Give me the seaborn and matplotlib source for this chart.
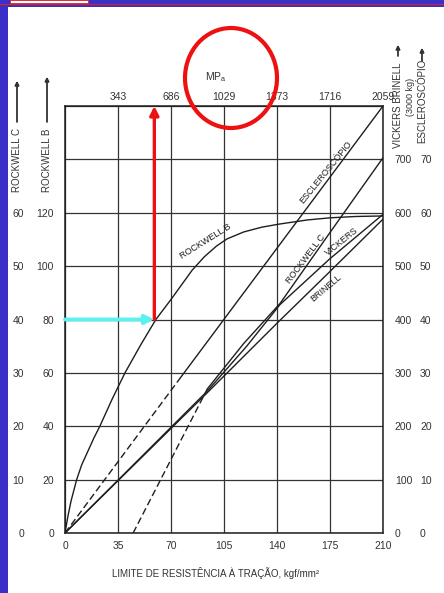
import numpy as np
import matplotlib
matplotlib.use('Agg')
import matplotlib.pyplot as plt
from matplotlib.patches import Ellipse, Rectangle
from matplotlib.lines import Line2D
import seaborn as sns

# limite de resistencia a tracao (kgf/mm2) x dureza
rb_x = [0, 2, 4, 7.7, 11, 15, 19, 23, 31, 39.6, 50, 60, 70, 77, 84, 92, 100, 107, 118,
        130, 142, 160, 175, 192, 210]
rb_y = [0, 6.5, 12, 20, 25.5, 30.5, 35.5, 40, 50, 60, 70.5, 80, 87.5, 93, 98.5, 103.5,
        107.5, 110.2, 112.8, 114.6, 115.8, 117.3, 118.1, 118.6, 118.8]

esc_dash_x = [0, 76]
esc_dash_y = [0, 29]          # escleroscopio, trecho tracejado
esc_x = [76, 210]
esc_y = [29, 80]

brinell_x = [0, 35, 94, 140, 175, 210]
brinell_y = [0, 98, 263, 393, 490, 588]

vickers_x = [0, 35, 94, 120, 142, 175, 210]
vickers_y = [0, 99, 266, 350, 428, 514, 597]

rc_dash_x = [45, 94]
rc_dash_y = [0, 27]           # rockwell C, trecho tracejado
rc_x = [94, 118, 142, 175, 210]
rc_y = [27, 35.5, 43, 56.3, 70.3]

kgf_ticks = [0, 35, 70, 105, 140, 175, 210]
mpa_ticks = [343, 686, 1029, 1373, 1716, 2059]
rb_ticks = [0, 20, 40, 60, 80, 100, 120, 140, 160]
rb_labels = ["0", "20", "40", "60", "80", "100", "120", "", ""]
rc_ticks = [0, 10, 20, 30, 40, 50, 60]
vk_ticks = [0, 100, 200, 300, 400, 500, 600, 700]
esc_ticks = [0, 10, 20, 30, 40, 50, 60, 70]

arrow_x = 59      # leitura: 80 HRB -> limite de resistencia
arrow_rb = 80

sns.set_theme(style="white")
plt.rcParams['font.family'] = ['Liberation Sans', 'DejaVu Sans']
plt.rcParams['mathtext.fontset'] = 'custom'
plt.rcParams['mathtext.rm'] = 'Liberation Sans'
plt.rcParams['mathtext.default'] = 'regular'

W, H = 444, 593
fig = plt.figure(figsize=(W / 100, H / 100), dpi=100)
fig.patch.set_facecolor("white")


def fp(x, y):
    # pixel (de cima para baixo) -> fracao da figura
    return x / W, 1 - y / H


ax = fig.add_axes([65 / W, 60 / H, 318 / W, 427 / H])
ax.set_facecolor("white")
ink = "#1e1e1e"
grey = "#333333"

sns.lineplot(x=rb_x, y=rb_y, ax=ax, color=ink, lw=1.0, sort=False)
sns.lineplot(x=esc_dash_x, y=np.array(esc_dash_y) * 2, ax=ax, color=ink, lw=1.0,
             linestyle=(0, (5, 2.5)))
sns.lineplot(x=esc_x, y=np.array(esc_y) * 2, ax=ax, color=ink, lw=1.0)
sns.lineplot(x=brinell_x, y=np.array(brinell_y) / 5, ax=ax, color=ink, lw=1.0)
sns.lineplot(x=vickers_x, y=np.array(vickers_y) / 5, ax=ax, color=ink, lw=1.0)
sns.lineplot(x=rc_dash_x, y=np.array(rc_dash_y) * 2, ax=ax, color=ink, lw=1.0,
             linestyle=(0, (5, 2.5)))
sns.lineplot(x=rc_x, y=np.array(rc_y) * 2, ax=ax, color=ink, lw=1.0)

ax.set_xlim(0, 210)
ax.set_ylim(0, 160)
ax.set_xticks(kgf_ticks)
ax.set_yticks(rb_ticks, labels=rb_labels)
ax.grid(True, color=grey, lw=0.9)
ax.set_axisbelow(True)
for s in ax.spines.values():
    s.set_visible(True)
    s.set_color(ink)
    s.set_linewidth(1.1)
ax.tick_params(axis="x", length=0, pad=6, labelsize=7.5, labelcolor=grey)
ax.tick_params(axis="y", length=0, pad=8, labelsize=7.5, labelcolor=grey)

ax.set_xlabel("LIMITE DE RESISTÊNCIA À TRAÇÃO, kgf/mm²", fontsize=7, color=grey)
ax.xaxis.set_label_coords(0.475, -0.08)

# eixo superior em MPa
top = ax.secondary_xaxis("top", functions=(lambda k: k * 9.807, lambda m: m / 9.807))
top.set_xticks(mpa_ticks)
top.tick_params(length=0, pad=3, labelsize=7.5, labelcolor=grey)
for s in top.spines.values():
    s.set_visible(False)
fig.text(*fp(216, 77), "MP$_a$", fontsize=7.5, color=grey, ha="center", va="center")

# escalas laterais
rc_axis = ax.secondary_yaxis(-0.1226, functions=(lambda v: v / 2, lambda v: v * 2))
rc_axis.set_yticks(rc_ticks)
vk_axis = ax.secondary_yaxis("right", functions=(lambda v: v * 5, lambda v: v / 5))
vk_axis.set_yticks(vk_ticks)
esc_axis = ax.secondary_yaxis(1.11, functions=(lambda v: v / 2, lambda v: v * 2))
esc_axis.set_yticks(esc_ticks)
for sec, pad in [(rc_axis, 1.5), (vk_axis, 8.5), (esc_axis, 1.5)]:
    sec.tick_params(length=0, pad=pad, labelsize=7.5, labelcolor=grey)
    for s in sec.spines.values():
        s.set_visible(False)

# nomes das escalas
lab = dict(fontsize=7, color=grey, rotation=90, ha="center")
fig.text(*fp(17, 160), "ROCKWELL C", va="center", **lab)
fig.text(*fp(47, 160), "ROCKWELL B", va="center", **lab)
fig.text(*fp(398, 148), "VICKERS BRINELL", va="bottom", **lab)
fig.text(*fp(410, 97), "(3000 kg)", va="center", fontsize=6.5, color=grey,
         rotation=90, ha="center")
fig.text(*fp(422, 143), "ESCLEROSCÓPIO", va="bottom", **lab)

for x0, y0, y1 in [(17, 122, 81), (47, 122, 77), (398, 56, 45), (422, 61, 48)]:
    fig.add_artist(plt.annotate("", xy=fp(x0, y1), xytext=fp(x0, y0),
                                xycoords="figure fraction", textcoords="figure fraction",
                                arrowprops=dict(arrowstyle="-|>", color=grey, lw=1.0,
                                                mutation_scale=6, shrinkA=0, shrinkB=0)))

# rotulos das curvas
cl = dict(fontsize=6.5, color=ink, ha="center", va="center", rotation_mode="anchor")
ax.text(92.5, 109.3, "ROCKWELL B", rotation=32, **cl)
ax.text(172.2, 135.1, "ESCLEROSCÓPIO", rotation=51, **cl)
ax.text(159, 102.7, "ROCKWELL C", rotation=53, **cl)
ax.text(182.7, 109.1, "VICKERS", rotation=39, **cl)
ax.text(172.2, 91.7, "BRINELL", rotation=40, **cl)

# setas de leitura
ax.annotate("", xy=(arrow_x, 160), xytext=(arrow_x, arrow_rb), annotation_clip=False,
            arrowprops=dict(arrowstyle="-|>", color="#ee1111", lw=2.4,
                            mutation_scale=13, shrinkA=0, shrinkB=0))
ax.annotate("", xy=(arrow_x, arrow_rb), xytext=(0, arrow_rb), annotation_clip=False,
            arrowprops=dict(arrowstyle="-|>", color="#5cf0f0", lw=2.8,
                            mutation_scale=13, shrinkA=0, shrinkB=0))

# circulo vermelho no MPa
cx, cy = fp(231, 78)
fig.add_artist(Ellipse((cx, cy), 92 / W, 100 / H, transform=fig.transFigure,
                       fill=False, edgecolor="#ee1111", lw=3))

# moldura azul do slide
blue = "#3a30c8"
fig.add_artist(Rectangle((0, 0), 8 / W, 1, transform=fig.transFigure,
                         facecolor=blue, edgecolor="none"))
fig.add_artist(Rectangle(fp(0, 7), 1, 7 / H, transform=fig.transFigure,
                         facecolor=blue, edgecolor="none"))
fig.add_artist(Line2D([0, 1], [1 - 3.5 / H, 1 - 3.5 / H], transform=fig.transFigure,
                      color="#dd2222", lw=0.8))
fig.add_artist(Rectangle(fp(10, 3), 78 / W, 3 / H, transform=fig.transFigure,
                         facecolor="white", edgecolor="#dd2222", lw=0.6))

fig.savefig("out.png", dpi=100)
plt.close(fig)
